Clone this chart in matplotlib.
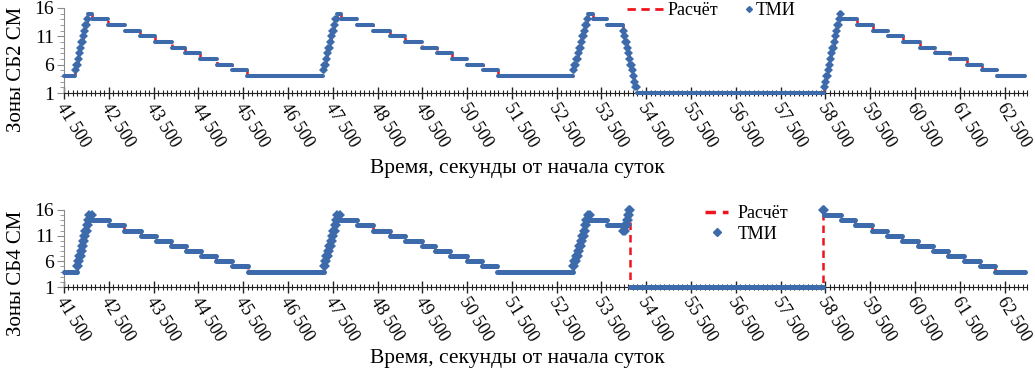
import numpy as np
import matplotlib
matplotlib.use("Agg")
import matplotlib.pyplot as plt
import matplotlib.transforms as mtransforms
from matplotlib.ticker import MultipleLocator, FuncFormatter
from matplotlib.lines import Line2D

# ---------------- data (step changes: time in s from start of day, zone) ----------------
# Top panel: zones of SB2 SM (TMI samples; the calculation coincides with them)
top_t = [41500, 41745, 41774, 41803, 41832, 41861, 41890, 41919, 41948, 41977, 42006, 42035,
         42125, 42480, 42860, 43195, 43530, 43910, 44200, 44535, 44915, 45250, 45585,
         47280, 47310, 47340, 47370, 47400, 47430, 47460, 47490, 47520, 47555, 47590,
         47680, 48040, 48400, 48775, 49110, 49490, 49825, 50160, 50495, 50855, 51190,
         52860, 52895, 52930, 52965, 53000, 53035, 53070, 53105, 53140, 53175, 53210,
         53310, 53620,
         53980, 54008, 54035, 54063, 54090, 54118, 54145, 54173, 54200, 54228, 54255, 54283,
         58465, 58492, 58520, 58547, 58575, 58602, 58630, 58657, 58684, 58712, 58739, 58766,
         58794, 58820, 58845,
         59200, 59560, 59890, 60230, 60610, 60940, 61280, 61660, 61990, 62330]
top_z = [4, 5, 6, 7, 8, 9, 10, 11, 12, 13, 14, 15,
         14, 13, 12, 11, 10, 9, 8, 7, 6, 5, 4,
         5, 6, 7, 8, 9, 10, 11, 12, 13, 14, 15,
         14, 13, 12, 11, 10, 9, 8, 7, 6, 5, 4,
         5, 6, 7, 8, 9, 10, 11, 12, 13, 14, 15,
         14, 13,
         12, 11, 10, 9, 8, 7, 6, 5, 4, 3, 2, 1,
         2, 3, 4, 5, 6, 7, 8, 9, 10, 11, 12, 13,
         14, 15, 14,
         13, 12, 11, 10, 9, 8, 7, 6, 5, 4]
top_end = 62960

# Bottom panel: zones of SB4 SM
bot_t = [41500, 41790, 41817, 41844, 41871, 41898, 41925, 41952, 41979, 42006, 42033, 42060,
         42120, 42500, 42850, 43220, 43550, 43890, 44220, 44560, 44890, 45260, 45610,
         47300, 47330, 47360, 47390, 47420, 47450, 47480, 47510, 47540, 47570, 47600,
         47660, 48040, 48400, 48775, 49110, 49490, 49780, 50115, 50495, 50830, 51165,
         52860, 52895, 52930, 52965, 53000, 53035, 53070, 53100, 53130, 53160, 53190,
         53240, 53620, 53990, 54030, 54060, 54090, 54115,
         54130, 58440, 58460,
         58840, 59170, 59540, 59870, 60220, 60560, 60900, 61230, 61590, 61950, 62280]
bot_z = [4, 5, 6, 7, 8, 9, 10, 11, 12, 13, 14, 15,
         14, 13, 12, 11, 10, 9, 8, 7, 6, 5, 4,
         5, 6, 7, 8, 9, 10, 11, 12, 13, 14, 15,
         14, 13, 12, 11, 10, 9, 8, 7, 6, 5, 4,
         5, 6, 7, 8, 9, 10, 11, 12, 13, 14, 15,
         14, 13, 12, 13, 14, 15, 16,
         1, 16, 15,
         14, 13, 12, 11, 10, 9, 8, 7, 6, 5, 4]
bot_end = 62960

y_ticks = [1, 6, 11, 16]
x_major = list(range(41500, 63000, 1000))
series_labels = ["Расчёт", "ТМИ"]
ylabels = ["Зоны СБ2 СМ", "Зоны СБ4 СМ"]
xlabel = "Время, секунды от начала суток"

# ---------------- style ----------------
BLUE = "#3d6aaa"
RED = "#f0141e"
FONT = "Liberation Serif"
plt.rcParams["font.family"] = [FONT, "DejaVu Serif"]

W, H = 1035, 377
fig = plt.figure(figsize=(W / 100, H / 100), dpi=100)


def fx(px):
    return px / W


def fy(py):
    return 1 - py / H


ax_top = fig.add_axes([fx(64), fy(93), fx(1027) - fx(64), fy(8) - fy(93)])
ax_bot = fig.add_axes([fx(64), fy(287), fx(1027) - fx(64), fy(210) - fy(287)])


def draw(ax, t, z, t_end, lw, ms):
    tt = np.asarray(list(t) + [t_end], float)
    zz = np.asarray(list(z) + [z[-1]], float)
    ax.plot(tt, zz, drawstyle="steps-post", color=RED, lw=1.8, ls=(0, (3, 2)),
            zorder=2, clip_on=False)
    s, e, v = tt[:-1], tt[1:], zz[:-1]
    long = (e - s) > 60
    short = ~long
    ax.hlines(v[long], s[long], e[long], color=BLUE, lw=lw, zorder=3, clip_on=False,
              capstyle="round")
    ax.plot(np.r_[s[short], e[short]], np.r_[v[short], v[short]], ls="none", marker="D",
            ms=ms, color=BLUE, mec=BLUE, mew=0, zorder=3, clip_on=False)


shift = mtransforms.ScaledTranslation(-4 / 100, 2 / 100, fig.dpi_scale_trans)


def style(ax):
    ax.set_xlim(41500, 63000)
    ax.set_ylim(1, 16)
    for sp in ("top", "right"):
        ax.spines[sp].set_visible(False)
    ax.spines["left"].set_color("#8a8a8a")
    ax.spines["bottom"].set_color("#222222")
    ax.set_yticks(y_ticks)
    ax.yaxis.set_minor_locator(MultipleLocator(1))
    ax.set_xticks(x_major)
    ax.xaxis.set_minor_locator(MultipleLocator(100))
    ax.xaxis.set_major_formatter(FuncFormatter(lambda v, p: f"{int(v):,}".replace(",", " ")))
    ax.tick_params(axis="y", which="major", length=5, color="#8a8a8a", labelsize=14, pad=2)
    ax.tick_params(axis="y", which="minor", length=3, color="#8a8a8a")
    ax.tick_params(axis="x", which="major", direction="inout", length=8, width=1,
                   color="#222222", labelsize=12.8, pad=6)
    ax.tick_params(axis="x", which="minor", direction="inout", length=5, width=0.8,
                   color="#222222")
    for lab in ax.get_xticklabels():
        lab.set_rotation(-58)
        lab.set_rotation_mode("anchor")
        lab.set_ha("left")
        lab.set_va("center")
        lab.set_transform(lab.get_transform() + shift)


draw(ax_top, top_t, top_z, top_end, lw=2.9, ms=4.0)
draw(ax_bot, bot_t, bot_z, bot_end, lw=3.6, ms=4.6)
style(ax_top)
style(ax_bot)

# legends
leg1 = ax_top.legend([Line2D([], [], color=RED, lw=2, ls=(0, (3, 2)))], series_labels[:1],
                     frameon=False, loc="upper left",
                     bbox_to_anchor=(fx(627), fy(2)), bbox_transform=fig.transFigure,
                     fontsize=13, handlelength=2.0, handletextpad=0.25,
                     borderpad=0, borderaxespad=0)
ax_top.add_artist(leg1)
ax_top.legend([Line2D([], [], ls="none", marker="D", ms=3, color=BLUE)], series_labels[1:],
              frameon=False, loc="upper left",
              bbox_to_anchor=(fx(744), fy(2)), bbox_transform=fig.transFigure,
              fontsize=13, handlelength=0.5, handletextpad=0.15,
              borderpad=0, borderaxespad=0)
h_bot = [Line2D([], [], color=RED, lw=2.5, ls=(0, (3, 2))),
         Line2D([], [], ls="none", marker="D", ms=4.5, color=BLUE)]
ax_bot.legend(h_bot, series_labels, ncol=1, frameon=False, loc="upper left",
              bbox_to_anchor=(fx(705), fy(205)), bbox_transform=fig.transFigure,
              fontsize=13, handlelength=1.3, handletextpad=0.5, labelspacing=0.2,
              borderpad=0, borderaxespad=0)

# axis labels
fig.text(fx(17), fy(69), ylabels[0], rotation=90, ha="center", va="center", fontsize=15)
fig.text(fx(17), fy(273), ylabels[1], rotation=90, ha="center", va="center", fontsize=15)
fig.text(fx(517), fy(168), xlabel, ha="center", va="center", fontsize=15.5)
fig.text(fx(517), fy(358), xlabel, ha="center", va="center", fontsize=15.5)

fig.savefig("out.png", dpi=100)
